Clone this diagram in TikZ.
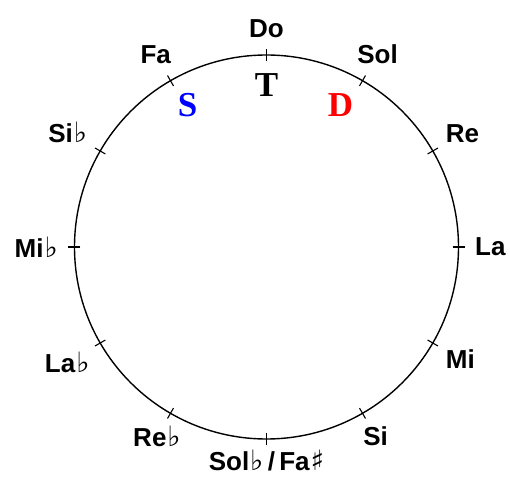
\documentclass[tikz,border=0pt]{standalone}
\usepackage{fontspec}
\setmainfont{Liberation Sans}
\newfontfamily\symfont{DejaVu Sans}
\newfontfamily\funcfont{Liberation Serif}
\newcommand{\fl}{\kern1pt{\symfont\fontseries{m}\fontsize{28}{30}\selectfont ♭}}
\newcommand{\sh}{\kern1pt{\symfont\fontseries{m}\fontsize{28}{30}\selectfont ♯}}

\begin{document}
\begin{tikzpicture}[
  x=1pt, y=1pt,
  note/.style={font=\fontsize{26}{30}\selectfont\bfseries, inner sep=2pt},
  func/.style={font=\fontsize{35}{38}\selectfont\funcfont\bfseries, inner sep=0pt},
  tick/.style={line width=1.1pt},
  line width=1.4pt
]
  \useasboundingbox (-266.5,-231) rectangle (243.5,247);

  % Kruh kvint
  \draw (0,0) circle [radius=192];

  % Znacky
  \draw[tick] (90:186) -- (90:198);
  \draw[tick] (60:186) -- (60:198);
  \draw[tick] (30:186) -- (30:198);
  \draw[tick] (0:186) -- (0:198);
  \draw[tick] (-30:186) -- (-30:198);
  \draw[tick] (-60:186) -- (-60:198);
  \draw[tick] (-90:186) -- (-90:198);
  \draw[tick] (-120:186) -- (-120:198);
  \draw[tick] (-150:186) -- (-150:198);
  \draw[tick] (180:186) -- (180:198);
  \draw[tick] (150:186) -- (150:198);
  \draw[tick] (120:186) -- (120:198);

  % Nazvy tonu
  \node[note, anchor=-90] (do) at (90:207) {Do};
  \node[note, anchor=-120] (sol) at (60:208) {Sol};
  \node[note, anchor=-150] (re) at (30:204) {Re};
  \node[note, anchor=180] (la) at (0:206) {La};
  \node[note, anchor=150] (mi) at (-30:204) {Mi};
  \node[note, anchor=120] (si) at (-60:204) {Si};
  \node[note, anchor=90] (solb) at (-90:200) {Sol\fl\,/\,Fa\sh};
  \node[note, anchor=60] (reb) at (-120:204) {Re\fl};
  \node[note, anchor=30] (lab) at (-150:204) {La\fl};
  \node[note, anchor=0] (mib) at (180:206) {Mi\fl};
  \node[note, anchor=-30] (sib) at (150:204) {Si\fl};
  \node[note, anchor=-60] (fa) at (120:208) {Fa};

  % Funkce
  \node[func, blue] (s) at (-79,142) {S};
  \node[func] (t) at (0,162) {T};
  \node[func, red] (d) at (74,142) {D};
\end{tikzpicture}
\end{document}
